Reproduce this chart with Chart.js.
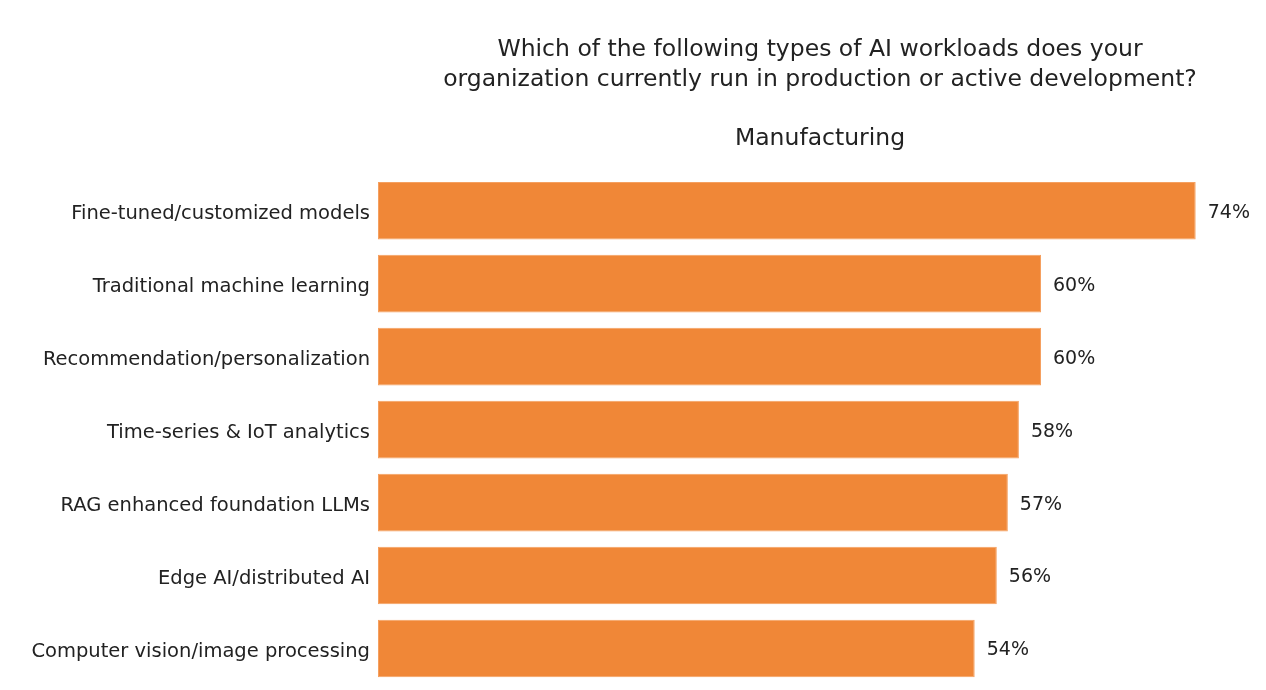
<!DOCTYPE html>
<html>
<head>
<meta charset="utf-8">
<script src="https://cdn.jsdelivr.net/npm/chart.js@4/dist/chart.umd.min.js"></script>
<style>
  html, body { margin: 0; padding: 0; background: #fff; }
  #wrap { width: 1266px; height: 690px; }
</style>
</head>
<body>
<div id="wrap"><canvas id="myChart"></canvas></div>
<script>
/*global Chart*/

const categories = [
    'Fine-tuned/customized models',
    'Traditional machine learning',
    'Recommendation/personalization',
    'Time-series & IoT analytics',
    'RAG enhanced foundation LLMs',
    'Edge AI/distributed AI',
    'Computer vision/image processing'
];
const shares = [74, 60, 60, 58, 57, 56, 54];
const titleLines = [
    'Which of the following types of AI workloads does your',
    'organization currently run in production or active development?'
];
const subtitleText = 'Manufacturing';

const FONT = "'DejaVu Sans', sans-serif";
const TEXT = '#222222';

// value labels at the end of each bar
const barValues = {
    id: 'barValues',
    afterDatasetsDraw(chart) {
        const ctx = chart.ctx;
        const meta = chart.getDatasetMeta(0);
        ctx.save();
        ctx.font = '19px ' + FONT;
        ctx.fillStyle = TEXT;
        ctx.textAlign = 'left';
        ctx.textBaseline = 'middle';
        meta.data.forEach((bar, i) => {
            ctx.fillText(shares[i] + '%', bar.x + 12, bar.y + 2);
        });
        ctx.restore();
    }
};

const config = {
    type: 'bar',
    data: {
        labels: categories,
        datasets: [{
            data: shares,
            backgroundColor: '#F08737',
            borderColor: '#F5A060',
            borderWidth: 1,
            borderSkipped: false,
            barPercentage: 0.79,
            categoryPercentage: 1
        }]
    },
    options: {
        indexAxis: 'y',
        responsive: true,
        maintainAspectRatio: false,
        animation: false,
        layout: { padding: { left: 0, right: 4, top: 0, bottom: 5 } },
        scales: {
            x: {
                display: false,
                min: 0,
                max: 80
            },
            y: {
                grid: { display: false, drawTicks: false },
                border: { display: false },
                ticks: {
                    color: TEXT,
                    padding: 8,
                    labelOffset: 3,
                    font: { family: FONT, size: 19.5 }
                },
                afterFit(scale) {
                    scale.width = 378;
                    scale.paddingTop = 0;
                    scale.paddingBottom = 0;
                }
            }
        },
        plugins: {
            legend: { display: false },
            tooltip: { enabled: false },
            title: {
                display: true,
                fullSize: false,
                text: titleLines,
                color: TEXT,
                font: { family: FONT, size: 23.5, weight: 'normal', lineHeight: 1.28 },
                padding: { top: 35, bottom: 29 }
            },
            subtitle: {
                display: true,
                fullSize: false,
                text: subtitleText,
                color: TEXT,
                font: { family: FONT, size: 23.5, weight: 'normal', lineHeight: 1.28 },
                padding: { top: 0, bottom: 20 }
            }
        }
    },
    plugins: [barValues]
};

/*eslint-disable no-unused-vars*/
const graphe1 = new Chart(document.getElementById('myChart'), config);
</script>
</body>
</html>
